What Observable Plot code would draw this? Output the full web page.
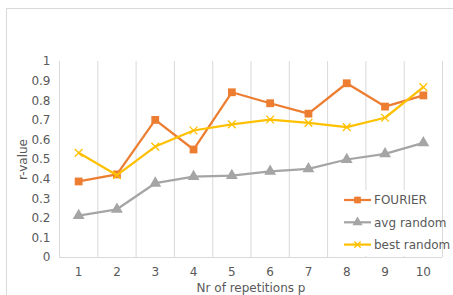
<!DOCTYPE html>
<html>
<head>
<meta charset="utf-8">
<script src="https://cdn.jsdelivr.net/npm/d3@7"></script>
<script src="https://cdn.jsdelivr.net/npm/@observablehq/plot@0.6"></script>
<style>
  html, body { margin: 0; padding: 0; background: white; }
  #chart { position: relative; width: 453px; height: 295px; overflow: hidden; }
</style>
</head>
<body>
<div id="chart"></div>
<script>
const reps = [1, 2, 3, 4, 5, 6, 7, 8, 9, 10];
const fourier = [0.388, 0.424, 0.702, 0.551, 0.843, 0.787, 0.734, 0.889, 0.770, 0.827];
const avgRandom = [0.214, 0.246, 0.379, 0.413, 0.418, 0.440, 0.452, 0.500, 0.529, 0.585];
const bestRandom = [0.534, 0.420, 0.566, 0.648, 0.679, 0.704, 0.687, 0.665, 0.713, 0.869];
const yTicks = [0, 0.1, 0.2, 0.3, 0.4, 0.5, 0.6, 0.7, 0.8, 0.9, 1];
const seriesNames = ["FOURIER", "avg random", "best random"];
const seriesColors = ["#ED7D31", "#A5A5A5", "#FFC000"];
const seriesSymbols = ["square", "triangle", "times"];
const xLabel = "Nr of repetitions p";
const yLabel = "r-value";

const seriesValues = [fourier, avgRandom, bestRandom];
const rows = seriesNames.flatMap((name, i) =>
  reps.map((p, j) => ({series: name, p, r: seriesValues[i][j]})));
const gridX = [...reps.map(d => d - 0.5), reps[reps.length - 1] + 0.5];

const textColor = "#595959";
const gridColor = "#d9d9d9";

const seriesMarks = seriesNames.flatMap((name, i) => {
  const data = rows.filter(d => d.series === name);
  const isStroke = seriesSymbols[i] === "times";
  return [
    Plot.line(data, {x: "p", y: "r", stroke: seriesColors[i], strokeWidth: 2.25}),
    Plot.dot(data, isStroke
      ? {x: "p", y: "r", symbol: seriesSymbols[i], r: 3.6, stroke: seriesColors[i], strokeWidth: 1.3}
      : {x: "p", y: "r", symbol: seriesSymbols[i], r: 4.4, fill: seriesColors[i], stroke: "none"})
  ];
});

const plot = Plot.plot({
  width: 453,
  height: 295,
  marginLeft: 59,
  marginRight: 11,
  marginTop: 61,
  marginBottom: 38,
  style: {fontFamily: "'DejaVu Sans', Verdana, sans-serif", fontSize: "12px", color: textColor, background: "white", overflow: "visible"},
  x: {domain: [0.5, 10.5]},
  y: {domain: [0, 1]},
  marks: [
    Plot.ruleX(gridX, {stroke: gridColor, strokeWidth: 1}),
    Plot.ruleY([0], {stroke: gridColor, strokeWidth: 1}),
    Plot.axisX(reps, {tickSize: 0, tickPadding: 10, tickFormat: d => String(d), fontSize: 12, fill: textColor,
      label: xLabel, labelAnchor: "center", labelArrow: "none", labelOffset: 34}),
    Plot.axisY(yTicks, {tickSize: 0, tickPadding: 9, tickFormat: d => String(+d.toFixed(1)), fontSize: 12, fill: textColor,
      label: yLabel, labelAnchor: "center", labelArrow: "none", labelOffset: 41}),
    ...seriesMarks
  ]
});

document.getElementById("chart").appendChild(plot);

// outer chart border
const svg = d3.select(plot);
svg.insert("rect", ":first-child")
  .attr("x", 6.5).attr("y", 8.5).attr("width", 470).attr("height", 320)
  .attr("fill", "white").attr("stroke", gridColor).attr("stroke-width", 1);

// legend
const lg = svg.append("g").attr("transform", "translate(340,190)");
lg.append("rect").attr("x", 0).attr("y", 0).attr("width", 102).attr("height", 66).attr("fill", "white");
const symbolMap = {square: d3.symbolSquare, triangle: d3.symbolTriangle, times: d3.symbolTimes};
seriesNames.forEach((name, i) => {
  const cy = 10 + i * 22.3;
  lg.append("line").attr("x1", 4).attr("x2", 31).attr("y1", cy).attr("y2", cy)
    .attr("stroke", seriesColors[i]).attr("stroke-width", 2.25);
  const isStroke = seriesSymbols[i] === "times";
  lg.append("path")
    .attr("d", d3.symbol(symbolMap[seriesSymbols[i]], isStroke ? 28 : 45)())
    .attr("transform", `translate(17.5,${cy})`)
    .attr("fill", isStroke ? "none" : seriesColors[i])
    .attr("stroke", isStroke ? seriesColors[i] : "none")
    .attr("stroke-width", 1.3);
  lg.append("text").attr("x", 34).attr("y", cy).attr("dy", "0.35em")
    .attr("text-anchor", "start")
    .attr("fill", textColor).attr("font-size", 12).text(name);
});
</script>
</body>
</html>
